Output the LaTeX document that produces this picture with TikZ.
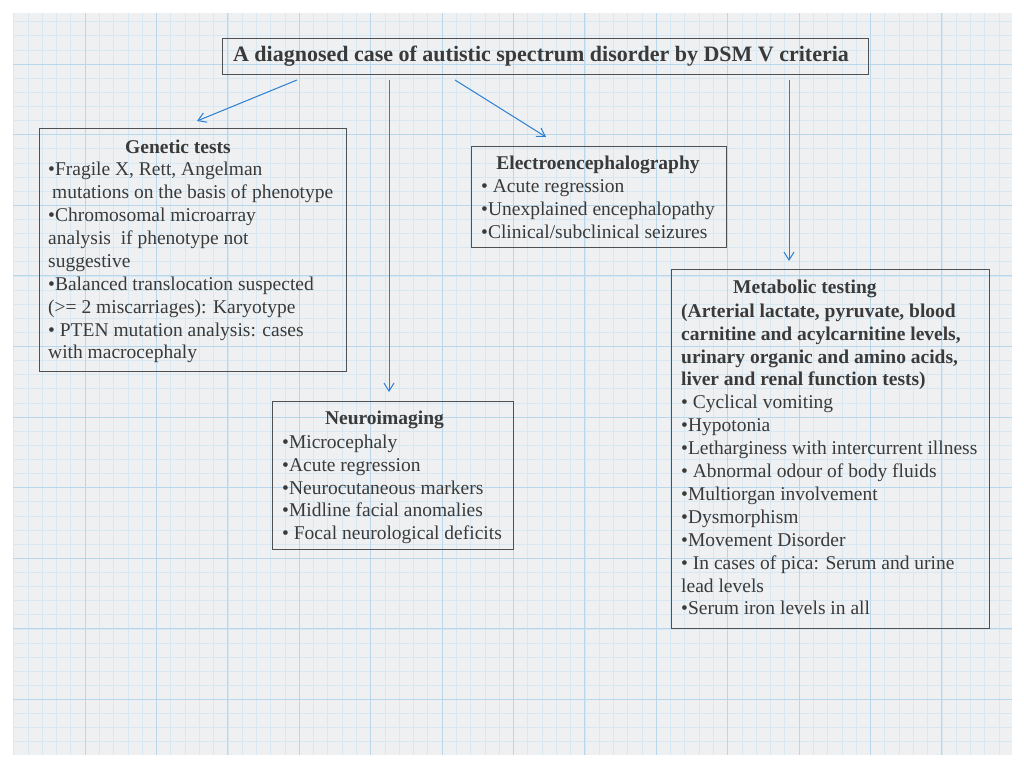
\documentclass[tikz,border=0pt]{standalone}
\usepackage{fontspec}
\setmainfont{Liberation Serif}
\usetikzlibrary{arrows.meta}
\definecolor{txt}{HTML}{3A3A3A}
\definecolor{bord}{HTML}{505050}
\definecolor{arr}{HTML}{2B7FD3}
\definecolor{paper}{HTML}{EEF0F1}
\definecolor{minorc}{HTML}{D8E8F2}
\definecolor{majorc}{HTML}{B8D7EC}
\begin{document}
\begin{tikzpicture}[x=1pt,y=-1pt,
  box/.style={draw=bord, line width=1pt, inner sep=0pt},
  head/.style={text=txt, font=\bfseries\fontsize{19.5}{23}\selectfont, anchor=base, inner sep=0pt},
  body/.style={text=txt, font=\fontsize{19.5}{22.9}\selectfont, anchor=north west, align=left, inner sep=0pt},
  conn/.style={draw=arr, line width=1pt, -{Straight Barb[length=8pt,width=10pt]}}]
\useasboundingbox (0,0) rectangle (1024,768);
\fill[white] (0,0) rectangle (1024,768);
\fill[paper] (13,13) rectangle (1012,755);
\foreach \i in {0,...,69} \draw[minorc, line width=0.6pt] ({13.6+14.28*\i},13) -- ({13.6+14.28*\i},755);
\foreach \j in {-3,...,48} \draw[minorc, line width=0.6pt] (13,{64+14.12*\j}) -- (1012,{64+14.12*\j});
\foreach \i in {1,...,13} \draw[majorc, line width=1pt] ({13.6+71.4*\i},13) -- ({13.6+71.4*\i},755);
\foreach \j in {0,...,9} \draw[majorc, line width=1pt] (13,{64+70.6*\j}) -- (1012,{64+70.6*\j});

% title
\node[box, minimum width=646pt, minimum height=35pt, text=txt, font=\bfseries\fontsize{22}{26}\selectfont] (title) at (545,56.5) {A diagnosed case of autistic spectrum disorder by DSM V criteria\hspace*{8pt}};

% genetic
\node[box, minimum width=307pt, minimum height=243pt] (gen) at (192.5,249.5) {};
\node[head] (genh) at (178,153.5) {Genetic tests};
\node[body] (genb) at (48,162) {•Fragile X, Rett, Angelman\\
\hspace*{4pt}mutations on the basis of phenotype\\
•Chromosomal microarray\\
analysis~ if phenotype not\\
suggestive\\
•Balanced translocation suspected\\
(>= 2 miscarriages): Karyotype\\
• PTEN mutation analysis: cases\\
with macrocephaly};

% EEG
\node[box, minimum width=255pt, minimum height=101pt] (eeg) at (598.5,196.5) {};
\node[head] (eegh) at (598,169) {Electroencephalography};
\node[body] (eegb) at (481,179.5) {• Acute regression\\
•Unexplained encephalopathy\\
•Clinical/subclinical seizures};

% Neuroimaging
\node[box, minimum width=241pt, minimum height=148pt] (neuro) at (392.5,475) {};
\node[head] (neuroh) at (384.5,424) {Neuroimaging};
\node[body] (neurob) at (282,434.5) {•Microcephaly\\
•Acute regression\\
•Neurocutaneous markers\\
•Midline facial anomalies\\
• Focal neurological deficits};

% Metabolic
\node[box, minimum width=318pt, minimum height=359pt] (meta) at (830,448.5) {};
\node[head, anchor=base west] (metah) at (733,293) {Metabolic testing};
\node[body] (metab) at (681,303.5) {\textbf{(Arterial lactate, pyruvate, blood}\\
\textbf{carnitine and acylcarnitine levels,}\\
\textbf{urinary organic and amino acids,}\\
\textbf{liver and renal function tests)}\\
• Cyclical vomiting\\
•Hypotonia\\
•Letharginess with intercurrent illness\\
• Abnormal odour of body fluids\\
•Multiorgan involvement\\
•Dysmorphism\\
•Movement Disorder\\
• In cases of pica: Serum and urine\\
lead levels\\
•Serum iron levels in all};

% connectors
\coordinate (s1) at (297,80); \coordinate (e1) at (197,121);
\coordinate (s2) at (389,80); \coordinate (e2) at (389,392);
\coordinate (s3) at (455,80); \coordinate (e3) at (546,137);
\coordinate (s4) at (789,80); \coordinate (e4) at (789,261);
\draw[conn] (s1) -- (e1);
\draw[conn] (s2) -- (e2);
\draw[conn] (s3) -- (e3);
\draw[conn] (s4) -- (e4);
\end{tikzpicture}
\end{document}
